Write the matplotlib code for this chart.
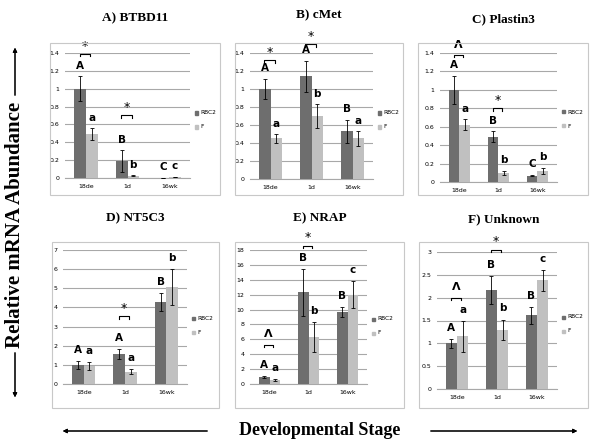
import matplotlib.pyplot as plt
from matplotlib.patches import Rectangle
from matplotlib.ticker import FormatStrFormatter, MultipleLocator

# Data
stages = ['18de', '1d', '16wk']
series = ['RBC2', 'F']

btbd11_rbc2 = [1.0, 0.19, 0.004]
btbd11_f = [0.49, 0.025, 0.01]
btbd11_rbc2_err = [0.14, 0.12, 0.0]
btbd11_f_err = [0.065, 0.005, 0.003]

cmet_rbc2 = [1.0, 1.14, 0.53]
cmet_f = [0.45, 0.70, 0.45]
cmet_rbc2_err = [0.11, 0.17, 0.13]
cmet_f_err = [0.045, 0.13, 0.08]

plastin3_rbc2 = [1.0, 0.49, 0.07]
plastin3_f = [0.62, 0.10, 0.12]
plastin3_rbc2_err = [0.15, 0.06, 0.01]
plastin3_f_err = [0.06, 0.02, 0.03]

nt5c3_rbc2 = [1.0, 1.57, 4.28]
nt5c3_f = [0.95, 0.65, 5.07]
nt5c3_rbc2_err = [0.22, 0.25, 0.45]
nt5c3_f_err = [0.2, 0.12, 0.92]

nrap_rbc2 = [0.95, 12.3, 9.7]
nrap_f = [0.55, 6.3, 12.0]
nrap_rbc2_err = [0.1, 3.2, 0.7]
nrap_f_err = [0.1, 2.0, 1.8]

unknown_rbc2 = [1.0, 2.17, 1.61]
unknown_f = [1.15, 1.30, 2.38]
unknown_rbc2_err = [0.1, 0.31, 0.18]
unknown_f_err = [0.33, 0.22, 0.23]

# significance letters (RBC2 row, F row)
btbd11_letters = [['A', 'B', 'C'], ['a', 'b', 'c']]
cmet_letters = [['A', 'A', 'B'], ['a', 'b', 'a']]
plastin3_letters = [['A', 'B', 'C'], ['a', 'b', 'b']]
nt5c3_letters = [['A', 'A', 'B'], ['a', 'a', 'b']]
nrap_letters = [['A', 'B', 'B'], ['a', 'b', 'c']]
unknown_letters = [['A', 'B', 'B'], ['a', 'b', 'c']]

# pairwise brackets: (stage index, bracket height, symbol)
btbd11_pairs = [(0, 1.39, '*'), (1, 0.70, '*')]
cmet_pairs = [(0, 1.32, '*'), (1, 1.50, '*')]
plastin3_pairs = [(0, 1.38, 'Λ'), (1, 0.80, '*')]
nt5c3_pairs = [(1, 3.55, '*')]
nrap_pairs = [(0, 5.3, 'Λ'), (1, 18.6, '*')]
unknown_pairs = [(0, 2.0, 'Λ'), (1, 3.05, '*')]

dark = '#6e6e6e'
light = '#c0c0c0'

fig = plt.figure(figsize=(6, 4.48), dpi=100)
W, H = 600.0, 448.0


def rect(x0, x1, y0, y1):
    return [x0 / W, 1 - y1 / H, (x1 - x0) / W, (y1 - y0) / H]


def panel(axbox, frame, title, title_y, rbc2, f, e1, e2, letters, pairs,
          ymax, step, fmt, leg_y):
    fx0, fx1, fy0, fy1 = frame
    fig.patches.append(Rectangle((fx0 / W, 1 - fy1 / H), (fx1 - fx0) / W,
                                 (fy1 - fy0) / H, transform=fig.transFigure,
                                 fill=False, ec='#c8c8c8', lw=0.8))
    fig.text((fx0 + fx1) / 2 / W, 1 - title_y / H, title, ha='center',
             va='center', family='Liberation Serif', weight='bold',
             fontsize=9.5)

    ax = fig.add_axes(rect(*axbox))
    x = list(range(len(stages)))
    w = 0.28
    xl = [i - w / 2 for i in x]
    xr = [i + w / 2 for i in x]
    ek = dict(ecolor='black', elinewidth=0.6, capsize=1.5, capthick=0.6)
    ax.bar(xl, rbc2, w, color=dark, yerr=e1, error_kw=ek, zorder=3)
    ax.bar(xr, f, w, color=light, yerr=e2, error_kw=ek, zorder=3)

    ax.set_xlim(-0.5, 2.5)
    ax.set_ylim(0, ymax)
    ax.yaxis.set_major_locator(MultipleLocator(step))
    ax.yaxis.set_major_formatter(FormatStrFormatter(fmt))
    ax.set_xticks(x)
    ax.set_xticklabels(stages)
    ax.tick_params(length=0, labelsize=4.5, pad=4)
    ax.grid(axis='y', color='#a8a8a8', lw=0.8, zorder=0)
    for s in ['top', 'right', 'left']:
        ax.spines[s].set_visible(False)
    ax.spines['bottom'].set_color('#a8a8a8')
    ax.spines['bottom'].set_linewidth(0.8)

    pad = 0.045 * ymax
    for i in x:
        ax.text(xl[i], rbc2[i] + e1[i] + pad, letters[0][i], ha='center',
                va='bottom', fontsize=7.5, weight='bold', clip_on=False)
        ax.text(xr[i], f[i] + e2[i] + pad, letters[1][i], ha='center',
                va='bottom', fontsize=7.5, weight='bold', clip_on=False)

    tick = 0.02 * ymax
    for i, yb, sym in pairs:
        a, b = i - 0.15, i + 0.1
        ax.plot([a, a, b, b], [yb - tick, yb, yb, yb - tick], color='black',
                lw=0.8, clip_on=False, zorder=4)
        if sym == '*':
            ax.text((a + b) / 2, yb + 0.01 * ymax, '*', ha='center',
                    va='bottom', fontsize=9, clip_on=False)
        else:
            ax.text((a + b) / 2, yb + 0.04 * ymax, sym, ha='center',
                    va='bottom', fontsize=8, weight='bold', clip_on=False)

    lx = axbox[1] + 5
    for name, c, yy in [(series[0], dark, leg_y), (series[1], light, leg_y + 14)]:
        fig.patches.append(Rectangle((lx / W, 1 - (yy + 1.5) / H), 3 / W,
                                     3 / H, transform=fig.transFigure,
                                     color=c))
        fig.text((lx + 5) / W, 1 - yy / H, name, fontsize=4.2, va='center')
    return ax


panel((65, 190, 53, 178), (50, 220, 43, 195), 'A) BTBD11', 18,
      btbd11_rbc2, btbd11_f, btbd11_rbc2_err, btbd11_f_err,
      btbd11_letters, btbd11_pairs, 1.4, 0.2, '%g', 113)
panel((250, 373, 53, 179), (235, 403, 43, 195), 'B) cMet', 15,
      cmet_rbc2, cmet_f, cmet_rbc2_err, cmet_f_err,
      cmet_letters, cmet_pairs, 1.4, 0.2, '%g', 113)
panel((440, 557, 53, 182), (418, 588, 43, 195), 'C) Plastin3', 19,
      plastin3_rbc2, plastin3_f, plastin3_rbc2_err, plastin3_f_err,
      plastin3_letters, plastin3_pairs, 1.4, 0.2, '%g', 112)
panel((63, 187, 250, 384), (52, 219, 242, 408), 'D) NT5C3', 218,
      nt5c3_rbc2, nt5c3_f, nt5c3_rbc2_err, nt5c3_f_err,
      nt5c3_letters, nt5c3_pairs, 7, 1, '%g', 318)
panel((250, 367, 250, 384), (235, 404, 242, 408), 'E) NRAP', 218,
      nrap_rbc2, nrap_f, nrap_rbc2_err, nrap_f_err,
      nrap_letters, nrap_pairs, 18, 2, '%g', 319)
panel((437, 557, 252, 389), (419, 588, 242, 408), 'F) Unknown', 219,
      unknown_rbc2, unknown_f, unknown_rbc2_err, unknown_f_err,
      unknown_letters, unknown_pairs, 3, 0.5, '%g', 317)

# Axis titles with arrows
fig.text(15 / W, 1 - 225 / H, 'Relative mRNA Abundance', rotation=90,
         ha='center', va='center', family='Liberation Serif', weight='bold',
         fontsize=15)
arr = dict(arrowstyle='-|>', color='black', lw=0.8, mutation_scale=6)
fig.add_artist(plt.annotate('', xy=(15 / W, 1 - 45 / H), xytext=(15 / W, 1 - 98 / H),
                            xycoords='figure fraction', arrowprops=arr))
fig.add_artist(plt.annotate('', xy=(15 / W, 1 - 400 / H), xytext=(15 / W, 1 - 350 / H),
                            xycoords='figure fraction', arrowprops=arr))

fig.text(320 / W, 1 - 430 / H, 'Developmental Stage', ha='center',
         va='center', family='Liberation Serif', weight='bold', fontsize=13)
fig.add_artist(plt.annotate('', xy=(60 / W, 1 - 431 / H), xytext=(210 / W, 1 - 431 / H),
                            xycoords='figure fraction', arrowprops=arr))
fig.add_artist(plt.annotate('', xy=(580 / W, 1 - 431 / H), xytext=(428 / W, 1 - 431 / H),
                            xycoords='figure fraction', arrowprops=arr))

fig.savefig('out.png', dpi=100)
